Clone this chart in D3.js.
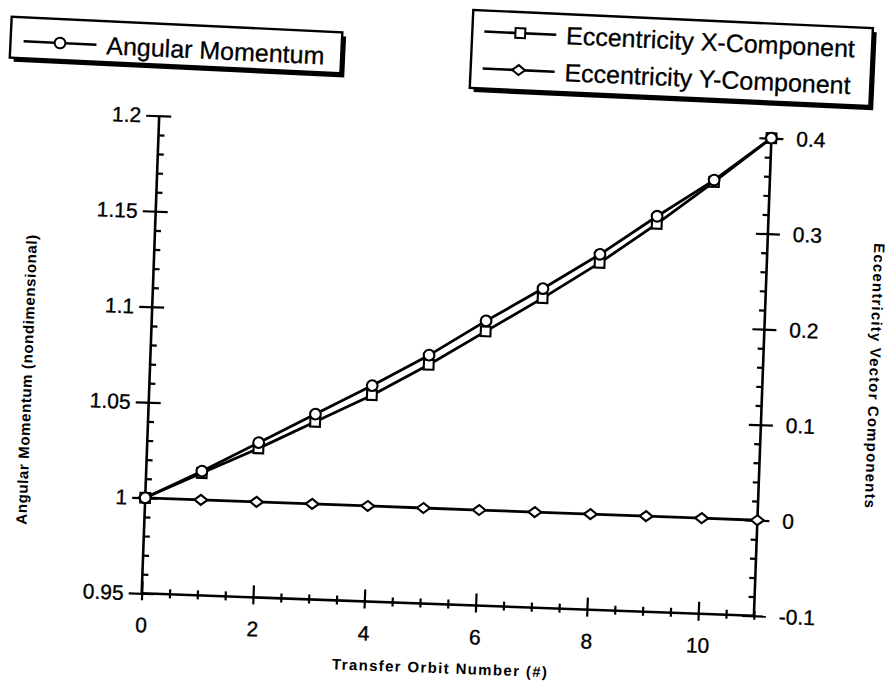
<!DOCTYPE html>
<html>
<head>
<meta charset="utf-8">
<script src="https://cdn.jsdelivr.net/npm/d3@7"></script>
<style>
  html, body { margin: 0; padding: 0; background: #fff; }
  svg { display: block; }
  text { font-family: "Liberation Sans", Arial, Helvetica, sans-serif; fill: #000; }
</style>
</head>
<body>
<svg id="chart" width="890" height="683"></svg>
<script>
// Transfer orbit sequence: orbit number on x
const orbitNumber = [0, 1, 2, 3, 4, 5, 6, 7, 8, 9, 10, 11];
// Angular momentum (nondimensional), left axis
const angularMomentum = [1.000, 1.015, 1.031, 1.047, 1.063, 1.080, 1.099, 1.117, 1.136, 1.157, 1.177, 1.200];
// Eccentricity vector components, right axis
const eccentricityX = [0.000, 0.028, 0.056, 0.086, 0.116, 0.150, 0.187, 0.224, 0.263, 0.306, 0.352, 0.400];
const eccentricityY = [0, 0, 0, 0, 0, 0, 0, 0, 0, 0, 0, 0];

// Axis ticks and labels
const xMajorTicks = [0, 2, 4, 6, 8, 10];
const xMinorTicks = [0.5, 1, 1.5, 2.5, 3, 3.5, 4.5, 5, 5.5, 6.5, 7, 7.5, 8.5, 9, 9.5, 10.5, 11];
const leftMajorTicks = [0.95, 1.0, 1.05, 1.1, 1.15, 1.2];
const leftTickLabels = ["0.95", "1", "1.05", "1.1", "1.15", "1.2"];
const rightMajorTicks = [-0.1, 0, 0.1, 0.2, 0.3, 0.4];
const rightTickLabels = ["-0.1", "0", "0.1", "0.2", "0.3", "0.4"];

const xTitle = "Transfer Orbit Number (#)";
const leftTitle = "Angular Momentum (nondimensional)";
const rightTitle = "Eccentricity Vector Components";
const legendLeft = [{ label: "Angular Momentum", symbol: "circle" }];
const legendRight = [
  { label: "Eccentricity X-Component", symbol: "square" },
  { label: "Eccentricity Y-Component", symbol: "diamond" }
];

// Layout
const ox = 141.7, oy = 593.3;        // plot origin
const plotW = 612.6, plotH = 477.9;
const tilt = 2.1;                      // page tilt, degrees

const svg = d3.select("#chart");
const g = svg.append("g").attr("transform", `rotate(${tilt}, ${ox}, ${oy})`);

const x = d3.scaleLinear().domain([0, 11]).range([ox, ox + plotW]);
const yL = d3.scaleLinear().domain([0.95, 1.2]).range([oy, oy - plotH]);
const yR = d3.scaleLinear().domain([-0.1, 0.4]).range([oy, oy - plotH]);

const axisStroke = 2.6;
const tickFont = 21;

// ---- bottom axis
const xAxis = g.append("g").attr("transform", `translate(0, ${oy})`)
  .call(d3.axisBottom(x).tickValues(xMajorTicks).tickSize(7).tickPadding(17).tickFormat(d3.format("d")));
xAxis.selectAll(".tick line").attr("y1", -12).attr("y2", 7);
const xMinor = g.append("g").attr("transform", `translate(0, ${oy})`)
  .call(d3.axisBottom(x).tickValues(xMinorTicks).tickSize(4).tickFormat(""));
xMinor.selectAll(".tick line").attr("y1", -5).attr("y2", 4);

// ---- left axis
const leftAxis = g.append("g").attr("transform", `translate(${ox}, 0)`)
  .call(d3.axisLeft(yL).tickValues(leftMajorTicks).tickSize(13).tickPadding(5)
    .tickFormat((d, i) => leftTickLabels[i]));
leftAxis.selectAll(".tick line").attr("x1", 12).attr("x2", -13);
const leftMinorVals = d3.range(0.96, 1.2, 0.01).filter(v => Math.abs(v * 20 - Math.round(v * 20)) > 1e-6);
const leftMinor = g.append("g").attr("transform", `translate(${ox}, 0)`)
  .call(d3.axisLeft(yL).tickValues(leftMinorVals).tickSize(0).tickFormat(""));
leftMinor.selectAll(".tick line").attr("x1", 0).attr("x2", 6);

// ---- right axis
const rightAxis = g.append("g").attr("transform", `translate(${ox + plotW}, 0)`)
  .call(d3.axisRight(yR).tickValues(rightMajorTicks).tickSize(12).tickPadding(13)
    .tickFormat((d, i) => rightTickLabels[i]));
rightAxis.selectAll(".tick line").attr("x1", -12).attr("x2", 12);
const rightMinorVals = d3.range(-0.08, 0.4, 0.02).filter(v => Math.abs(v * 10 - Math.round(v * 10)) > 1e-6);
const rightMinor = g.append("g").attr("transform", `translate(${ox + plotW}, 0)`)
  .call(d3.axisRight(yR).tickValues(rightMinorVals).tickSize(0).tickFormat(""));
rightMinor.selectAll(".tick line").attr("x1", 0).attr("x2", -6);

g.selectAll(".domain").attr("stroke", "#000").attr("stroke-width", axisStroke);
g.selectAll(".tick line").attr("stroke", "#000").attr("stroke-width", 2.2);
g.selectAll(".tick text").attr("font-size", tickFont)
  .attr("font-family", "Liberation Sans, Arial, sans-serif")
  .attr("stroke", "#000").attr("stroke-width", 0.35);
xAxis.select(".domain").attr("d", `M${ox},0H${ox + plotW}`);
xMinor.select(".domain").remove();
leftMinor.select(".domain").remove();
rightMinor.select(".domain").remove();
leftAxis.select(".domain").attr("d", `M0,${oy}V${oy - plotH}`);
rightAxis.select(".domain").attr("d", `M0,${oy}V${oy - plotH}`);

// ---- axis titles (wide-set bold lettering)
g.append("text")
  .attr("x", 442).attr("y", oy + 69)
  .attr("text-anchor", "middle").attr("font-size", 15).attr("font-weight", "bold")
  .attr("textLength", 215).attr("lengthAdjust", "spacing")
  .text(xTitle);
g.append("text")
  .attr("transform", `translate(24, 384) rotate(-90)`)
  .attr("text-anchor", "middle").attr("font-size", 15).attr("font-weight", "bold")
  .attr("textLength", 290).attr("lengthAdjust", "spacing")
  .text(leftTitle);
g.append("text")
  .attr("transform", `translate(861, 349) rotate(90)`)
  .attr("text-anchor", "middle").attr("font-size", 15).attr("font-weight", "bold")
  .attr("textLength", 265).attr("lengthAdjust", "spacing")
  .text(rightTitle);

// ---- series
const lineStroke = 2.8;
function drawLine(vals, yScale) {
  const line = d3.line().x((d, i) => x(orbitNumber[i])).y(d => yScale(d));
  g.append("path").datum(vals).attr("d", line)
    .attr("fill", "none").attr("stroke", "#000").attr("stroke-width", lineStroke)
    .attr("stroke-linejoin", "round");
}
function symbolPath(kind) {
  if (kind === "circle") return d3.symbol().type(d3.symbolCircle).size(90)();
  if (kind === "square") return d3.symbol().type(d3.symbolSquare).size(95)();
  // flattened diamond
  return "M-6.5,0L0,-5L6.5,0L0,5Z";
}
function drawMarkers(vals, yScale, kind) {
  g.append("g").selectAll("path").data(vals).join("path")
    .attr("transform", (d, i) => `translate(${x(orbitNumber[i])}, ${yScale(d)})`)
    .attr("d", symbolPath(kind))
    .attr("fill", "#fff").attr("stroke", "#000").attr("stroke-width", 2.1);
}

drawLine(eccentricityY, yR);
drawLine(eccentricityX, yR);
drawLine(angularMomentum, yL);
drawMarkers(eccentricityY, yR, "diamond");
drawMarkers(eccentricityX, yR, "square");
drawMarkers(angularMomentum, yL, "circle");

// ---- legends (boxes with drop shadow)
function legendBox(tx, ty, angle, w, h, items, rowYs, lineX0, lineX1, textX) {
  const lg = svg.append("g").attr("transform", `translate(${tx}, ${ty}) rotate(${angle})`);
  lg.append("rect").attr("x", 4).attr("y", 4).attr("width", w).attr("height", h).attr("fill", "#000");
  lg.append("rect").attr("x", 0).attr("y", 0).attr("width", w).attr("height", h)
    .attr("fill", "#fff").attr("stroke", "#000").attr("stroke-width", 2.4);
  items.forEach((it, i) => {
    const yy = rowYs[i];
    lg.append("line").attr("x1", lineX0).attr("x2", lineX1).attr("y1", yy).attr("y2", yy)
      .attr("stroke", "#000").attr("stroke-width", 2.6);
    lg.append("path").attr("transform", `translate(${(lineX0 + lineX1) / 2}, ${yy})`)
      .attr("d", symbolPath(it.symbol))
      .attr("fill", "#fff").attr("stroke", "#000").attr("stroke-width", 2);
    lg.append("text").attr("x", textX).attr("y", yy + 9)
      .attr("font-size", 25).attr("stroke", "#000").attr("stroke-width", 0.3)
      .text(it.label);
  });
}
legendBox(11.7, 16.7, 2.7, 331, 41, legendLeft, [24], 13, 86, 96);
legendBox(473.3, 10, 2.6, 400, 78, legendRight, [21, 58], 12, 84, 94);
</script>
</body>
</html>
